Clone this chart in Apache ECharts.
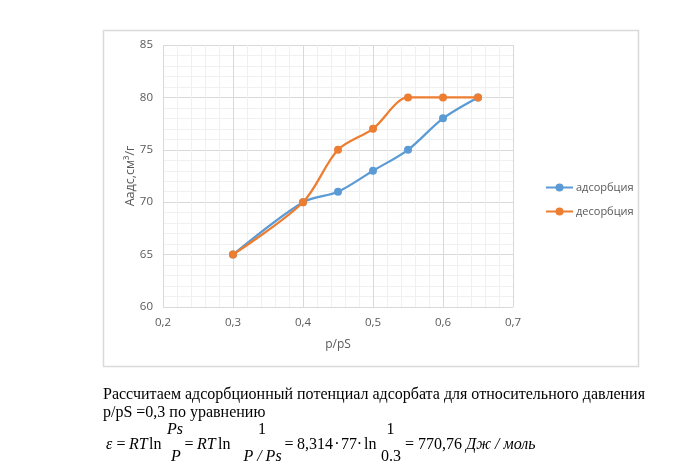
<!DOCTYPE html>
<html><head><meta charset="utf-8">
<script src="https://cdn.jsdelivr.net/npm/echarts@6/dist/echarts.min.js"></script>
<style>html,body{margin:0;padding:0;background:#fff}#c{width:696px;height:464px}</style>
</head><body><div id="c"></div>
<script>
const seriesNames = ['адсорбция', 'десорбция'];
const xValues = [0.3, 0.4, 0.45, 0.5, 0.55, 0.6, 0.65];
const adsorption = [65, 70, 71, 73, 75, 78, 80];
const desorption = [65, 70, 75, 77, 80, 80, 80];
const xAxisName = 'p/pS';
const yAxisName = 'Аадс,см³/г';
const paragraph1 = 'Рассчитаем адсорбционный потенциал адсорбата для относительного давления';
const paragraph2 = 'p/pS =0,3 по уравнению';

const chart = echarts.init(document.getElementById('c'), null, {renderer: 'canvas'});
const serif = 'Liberation Serif';
const F = '16px "' + serif + '"';
const FI = 'italic 16px "' + serif + '"';
const txt = (x, y, s, opt) => ({type: 'text', x: x, y: y, silent: true,
  style: Object.assign({text: s, font: F, fill: '#000', textVerticalAlign: 'middle'}, opt || {})});

const fmt = v => String(Math.round(v * 10) / 10).replace('.', ',');
const pairs = arr => xValues.map((x, i) => [x, arr[i]]);
const colors = ['#5B9BD5', '#ED7D31'];
const axisFont = 'Open Sans';

const yMain = 445, yNum = 430, yDen = 457;

chart.setOption({
  animation: false,
  backgroundColor: '#fff',
  grid: {left: 163, top: 45, right: 183, bottom: 157, containLabel: false},
  xAxis: {
    type: 'value', min: 0.2, max: 0.7, interval: 0.1,
    name: xAxisName, nameLocation: 'middle', nameGap: 32, nameMoveOverlap: false,
    nameTextStyle: {color: '#595959', fontSize: 12, fontFamily: axisFont},
    axisLine: {show: false}, axisTick: {show: false},
    axisLabel: {color: '#595959', fontSize: 11.5, fontFamily: axisFont, margin: 10, formatter: fmt},
    splitLine: {show: true, lineStyle: {color: '#d9d9d9', width: 1}},
    minorTick: {show: false, splitNumber: 5},
    minorSplitLine: {show: true, lineStyle: {color: '#f0f0f0', width: 1}}
  },
  yAxis: {
    type: 'value', min: 60, max: 85, interval: 5,
    name: yAxisName, nameLocation: 'middle', nameGap: 26, nameMoveOverlap: false,
    nameTextStyle: {color: '#595959', fontSize: 12.5, fontFamily: axisFont},
    axisLine: {show: false}, axisTick: {show: false},
    axisLabel: {color: '#595959', fontSize: 11.5, fontFamily: axisFont, margin: 10},
    splitLine: {show: true, lineStyle: {color: '#d9d9d9', width: 1}},
    minorTick: {show: false, splitNumber: 5},
    minorSplitLine: {show: true, lineStyle: {color: '#f0f0f0', width: 1}}
  },
  legend: {
    orient: 'vertical', left: 540, top: 177, itemWidth: 27, itemHeight: 10, itemGap: 13,
    textStyle: {color: '#595959', fontSize: 11, fontFamily: axisFont, padding: [0, 0, 0, -2]},
    data: seriesNames
  },
  series: [
    {name: seriesNames[0], type: 'line', smooth: 0.3, data: pairs(adsorption), color: colors[0],
     symbol: 'circle', symbolSize: 8, lineStyle: {width: 2.25}, itemStyle: {color: colors[0]}, z: 2},
    {name: seriesNames[1], type: 'line', smooth: 0.3, data: pairs(desorption), color: colors[1],
     symbol: 'circle', symbolSize: 8, lineStyle: {width: 2.25}, itemStyle: {color: colors[1]}, z: 3}
  ],
  graphic: [
    {type: 'rect', silent: true, shape: {x: 103.5, y: 30.5, width: 535, height: 336}, style: {fill: 'none', stroke: '#d9d9d9', lineWidth: 1.5}, z: -1},
    txt(103, 395, paragraph1),
    txt(103, 413, paragraph2),
    txt(106, yMain, 'ε', {font: FI}),
    txt(116.5, yMain, '='),
    txt(129, yMain, 'RT', {font: FI}),
    txt(149, yMain, 'ln'),
    txt(175, yNum, 'Ps', {font: FI, textAlign: 'center'}),
    txt(176, yDen, 'P', {font: FI, textAlign: 'center'}),
    txt(184.5, yMain, '='),
    txt(197, yMain, 'RT', {font: FI}),
    txt(218, yMain, 'ln'),
    txt(262, yNum, '1', {textAlign: 'center'}),
    txt(262.5, yDen, 'P / Ps', {font: FI, textAlign: 'center'}),
    txt(284.5, yMain, '='),
    txt(297, yMain, '8,314'),
    txt(337, yMain, '·', {textAlign: 'center'}),
    txt(341, yMain, '77'),
    txt(359.5, yMain, '·', {textAlign: 'center'}),
    txt(364, yMain, 'ln'),
    txt(390.5, yNum, '1', {textAlign: 'center'}),
    txt(391, yDen, '0.3', {textAlign: 'center'}),
    txt(405, yMain, '='),
    txt(418, yMain, '770,76'),
    txt(466, yMain, 'Дж / моль', {font: FI})
  ]
});
</script></body></html>
